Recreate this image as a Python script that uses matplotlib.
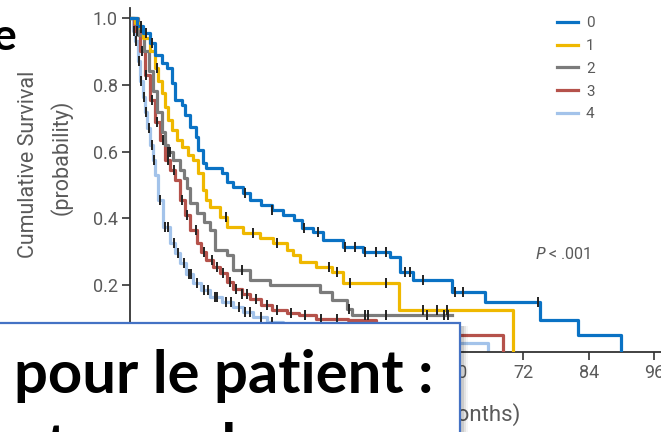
import numpy as np
import matplotlib
matplotlib.use("Agg")
import matplotlib.pyplot as plt
from matplotlib.patches import Rectangle

# risk groups 0..4 (Kaplan-Meier steps)
labels = ["0", "1", "2", "3", "4"]
colors = ["#0a72c4", "#efb800", "#7b7b7b", "#b5524b", "#a3c3ea"]

t0 = [0, 1.2, 2.4, 3.7, 4.6, 5.9, 6.8, 7.7, 8.2, 9.5, 10, 11, 12, 12.5, 13.4, 14, 16.8, 17.8,
      18.9, 20.7, 22, 24, 26, 28, 30, 31.5, 33.5, 35.3, 39, 42.7, 47.6, 49.5, 51.8, 59, 65, 75, 82, 90]
s0 = [1.0, 0.975, 0.955, 0.925, 0.89, 0.865, 0.85, 0.805, 0.755, 0.74, 0.71, 0.675, 0.645, 0.605,
      0.565, 0.55, 0.535, 0.51, 0.495, 0.475, 0.455, 0.44, 0.425, 0.41, 0.395, 0.37, 0.36, 0.335,
      0.315, 0.30, 0.285, 0.24, 0.215, 0.18, 0.15, 0.096, 0.051, 0.0]
c0 = [2.0, 3.0, 4.0, 21, 26, 31.8, 34.5, 39.4, 41.2, 43, 45, 46.9, 50.4, 51.3, 53.7, 59.5, 61, 74.8]

t1 = [0, 1.0, 1.8, 2.4, 3.7, 4.6, 5.1, 5.9, 6.4, 7.0, 7.7, 8.6, 9.5, 10.6, 11.5, 12.5, 13.4, 14,
      14.7, 16.5, 17.8, 20.7, 23.8, 26.2, 28.8, 29.9, 31.1, 34, 37, 39, 49.3, 70.1]
s1 = [1.0, 0.985, 0.97, 0.94, 0.90, 0.85, 0.81, 0.775, 0.735, 0.695, 0.665, 0.635, 0.615, 0.59,
      0.575, 0.535, 0.485, 0.455, 0.435, 0.405, 0.375, 0.356, 0.34, 0.326, 0.305, 0.29, 0.27,
      0.255, 0.24, 0.207, 0.126, 0.0]
c1 = [2.0, 5.0, 17.5, 22.5, 27, 36.5, 37.9, 40.3, 46.9, 53.7, 56.2, 58]

t2 = [0, 1.5, 2.5, 3.5, 4.2, 5.0, 5.8, 6.5, 6.9, 7.9, 9.2, 9.8, 10.4, 11, 12.3, 13.5, 14.7, 15.6,
      17.8, 18.9, 22, 25.6, 34.8, 37, 39.7, 40.6, 59]
s2 = [1.0, 0.95, 0.90, 0.84, 0.78, 0.72, 0.66, 0.62, 0.60, 0.575, 0.545, 0.52, 0.49, 0.446, 0.416,
      0.39, 0.365, 0.305, 0.29, 0.245, 0.215, 0.20, 0.18, 0.156, 0.13, 0.11, 0.11]
c2 = [6.9, 7.3, 20.5, 40.1, 43, 43.6, 46.9, 54.4, 57.5, 58.2]

t3 = [0, 0.8, 1.8, 2.8, 3.7, 4.6, 5.5, 6.4, 7.3, 8.2, 9.2, 10, 11, 12.3, 13, 14, 15.2, 16.5, 17.8,
      18.9, 20.5, 22, 24, 26, 28.8, 31, 34, 40, 45, 68.3]
s3 = [1.0, 0.96, 0.90, 0.83, 0.755, 0.69, 0.635, 0.575, 0.545, 0.515, 0.455, 0.41, 0.365, 0.326,
      0.30, 0.275, 0.255, 0.236, 0.21, 0.19, 0.175, 0.16, 0.14, 0.126, 0.117, 0.11, 0.10, 0.096,
      0.051, 0.0]
c3 = [1.2, 2.2, 3.0, 4.0, 5.0, 6.0, 7.0, 8.0, 9.5, 10.5, 12, 13.5, 15, 16, 17, 18.3, 19.5, 20.5,
      21.5, 23, 25, 27, 29.5, 32, 35, 38]

t4 = [0, 0.5, 0.9, 1.4, 1.8, 2.3, 2.7, 3.2, 3.7, 4.2, 4.6, 5.1, 6.0, 7.3, 8.2, 9.2, 10.3, 11.5, 13,
      14.7, 16.8, 18.9, 20.7, 22.5, 25, 28, 35, 45, 65.6]
s4 = [1.0, 0.96, 0.93, 0.87, 0.81, 0.765, 0.72, 0.67, 0.62, 0.575, 0.53, 0.455, 0.374, 0.326, 0.295,
      0.266, 0.235, 0.206, 0.185, 0.165, 0.15, 0.135, 0.12, 0.105, 0.09, 0.075, 0.05, 0.027, 0.0]
c4 = [0.7, 1.1, 1.6, 2.0, 2.5, 3.0, 3.5, 4.0, 4.4, 5.5, 6.5, 7.0, 8.0, 8.7, 9.8, 10.8, 11.2, 12.2,
      13.5, 14.2, 15.5, 16, 17.5, 18.5, 20, 21, 22, 24, 26]

times = [t0, t1, t2, t3, t4]
survs = [s0, s1, s2, s3, s4]
cens = [c0, c1, c2, c3, c4]

xticks = [0, 12, 24, 36, 48, 60, 72, 84, 96]
yticks = [0.0, 0.2, 0.4, 0.6, 0.8, 1.0]

W, H = 661, 432
fig = plt.figure(figsize=(W / 100, H / 100), dpi=100)
ax = fig.add_axes([130 / W, 80 / H, 531 / W, 344 / H])
gray = "#5a5a5a"
font = ["Liberation Sans Narrow", "Roboto", "DejaVu Sans"]

for i in range(4, -1, -1):
    t = np.array(times[i]); s = np.array(survs[i])
    ax.step(t, s, where="post", color=colors[i], lw=2.3, label=labels[i], zorder=2 + (4 - i))
    c = np.array(cens[i])
    idx = np.searchsorted(t, c, side="right") - 1
    ax.plot(c, s[idx], ls="none", marker="|", ms=7, mew=1.4, color="#222222", zorder=8)

ax.set_xlim(0, 531 / 5.46)
ax.set_ylim(0, 1.03)
ax.set_xticks(xticks)
ax.set_yticks(yticks)
ax.set_yticklabels(["0.0", "0.2", "0.4", "0.6", "0.8", "1.0"])
for sp in ["top", "right"]:
    ax.spines[sp].set_visible(False)
for sp in ["left", "bottom"]:
    ax.spines[sp].set_color("#333333")
    ax.spines[sp].set_linewidth(1.3)
ax.tick_params(length=6, width=1.2, color="#333333", labelcolor=gray, labelsize=13, pad=3)
for lab in ax.get_xticklabels() + ax.get_yticklabels():
    lab.set_family(font)

h, l = ax.get_legend_handles_labels()
order = [l.index(x) for x in labels]
leg = ax.legend([h[k] for k in order], [l[k] for k in order], loc="upper left",
                bbox_to_anchor=(557 / W, 1 - 16 / H), bbox_transform=fig.transFigure,
                frameon=False, handlelength=1.4, handletextpad=0.5, labelspacing=0.58,
                borderpad=0, borderaxespad=0, prop={"family": font, "size": 11})
for txt in leg.get_texts():
    txt.set_color(gray)

fig.text(535 / W, 1 - 254 / H, "$P$ < .001", color=gray, fontsize=11.5, va="center",
         family=font)

fig.text(29 / W, 1 - 164 / H, "Cumulative Survival", rotation=90, color=gray, fontsize=15.5,
         ha="center", va="center", family=font)
fig.text(61 / W, 1 - 157 / H, "(probability)", rotation=90, color=gray, fontsize=15.5,
         ha="center", va="center", family=font)
fig.text(520 / W, 1 - 415 / H, "Time (months)", color=gray, fontsize=16, ha="right",
         va="center", family=font)

# top-left fragment of slide title
fig.text(16 / W, 1 - 50 / H, "e", fontsize=32, fontweight="bold", ha="right", va="baseline",
         family=["Lato", "DejaVu Sans"])

# overlay text box with shadow
for k, a in enumerate([0.10, 0.07, 0.04]):
    fig.patches.append(Rectangle(((-10 + 2 + 2 * k) / W, -10 / H), 472 / W, (H - 323 + 10 - 3) / H,
                                 transform=fig.transFigure, facecolor="black", alpha=a,
                                 edgecolor="none", zorder=18))
box = Rectangle((-10 / W, -10 / H), 470 / W, (H - 323 + 10) / H, transform=fig.transFigure,
                facecolor="white", edgecolor="#4472c4", lw=1.6, zorder=19)
fig.patches.append(box)
fig.text(14 / W, 1 - 393 / H, "pour le patient :", fontsize=43, fontweight="bold",
         va="baseline", ha="left", family=["Lato", "DejaVu Sans"], zorder=20)
fig.text(14 / W, 1 - 466 / H, "et pour le", fontsize=43, fontweight="bold",
         va="baseline", ha="left", family=["Lato", "DejaVu Sans"], zorder=20)

fig.savefig("out.png", dpi=100)
